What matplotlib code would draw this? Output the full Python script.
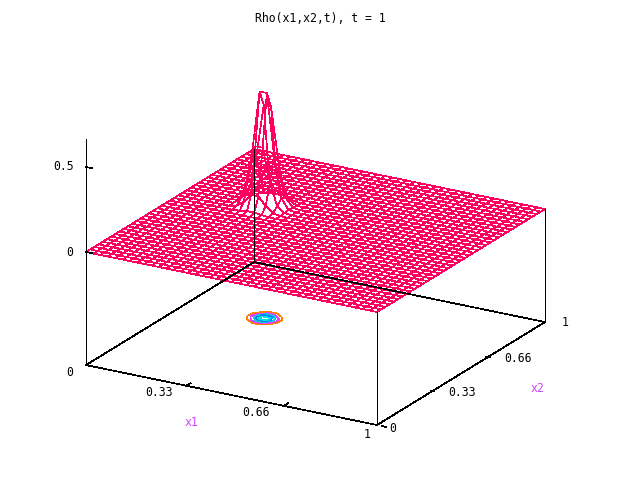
import numpy as np
import matplotlib
matplotlib.use("Agg")
import matplotlib.pyplot as plt

# grid of the surface, flat at zero apart from the peak table below
n_cells = 40
peak_i = 7
peak_j = 21
peak = [
    [0.000, 0.001, 0.004, 0.007, 0.006, 0.002, 0.000, 0.000],
    [0.001, 0.009, 0.036, 0.067, 0.057, 0.023, 0.004, 0.000],
    [0.005, 0.042, 0.168, 0.310, 0.266, 0.106, 0.019, 0.002],
    [0.011, 0.091, 0.362, 0.669, 0.574, 0.228, 0.042, 0.004],
    [0.011, 0.091, 0.362, 0.669, 0.574, 0.228, 0.042, 0.004],
    [0.005, 0.042, 0.168, 0.310, 0.266, 0.106, 0.019, 0.002],
    [0.001, 0.009, 0.036, 0.067, 0.057, 0.023, 0.004, 0.000],
    [0.000, 0.001, 0.004, 0.007, 0.006, 0.002, 0.000, 0.000],
]

z_bottom = -0.665
z_top = 0.665

x1_ticks = [0.345, 0.68]
x2_ticks = [0.33, 0.66]
z_ticks = [0.0, 0.5]

contour_levels = [0.15, 0.25, 0.38, 0.5, 0.6]
contour_colors = ["#ff8000", "#e040ff", "#00d0e0", "#0080ff", "#00e0e0"]

# text: string, pixel x, pixel y, colour
labels = [
    ("Rho(x1,x2,t), t = 1", 320, 18, "black"),
    ("0.5", 64, 167, "black"),
    ("0", 70, 252, "black"),
    ("0", 70, 372, "black"),
    ("0.33", 159, 393, "black"),
    ("0.66", 256, 412, "black"),
    ("1", 367, 434, "black"),
    ("x1", 191, 423, "#cc44ff"),
    ("0", 393, 428, "black"),
    ("0.33", 462, 393, "black"),
    ("0.66", 518, 358, "black"),
    ("1", 565, 323, "black"),
    ("x2", 537, 388, "#cc44ff"),
]

PINK = "#ff0060"


def project(x1, x2, z):
    # same oblique view as the reference, result in image pixels
    px = 86 + 291 * np.asarray(x1) + 168 * np.asarray(x2)
    py = 252 + 60 * np.asarray(x1) - 103 * np.asarray(x2) - 170 * np.asarray(z)
    return px, py


def line(ax, x1, x2, z, color="black", zorder=3):
    px, py = project(x1, x2, z)
    ax.plot(px, py, color=color, lw=0.5, antialiased=False, zorder=zorder,
            solid_joinstyle="miter")


grid = np.linspace(0, 1, n_cells + 1)
X1, X2 = np.meshgrid(grid, grid, indexing="ij")
Z = np.zeros_like(X1)
table = np.array(peak)
Z[peak_i:peak_i + table.shape[0], peak_j:peak_j + table.shape[1]] = table

fig = plt.figure(figsize=(6.4, 4.8), dpi=100)
ax = fig.add_axes([0, 0, 1, 1])

# surface wireframe
for k in range(n_cells + 1):
    line(ax, X1[k, :], X2[k, :], Z[k, :], PINK, 2)
    line(ax, X1[:, k], X2[:, k], Z[:, k], PINK, 2)

# contours on the base
bx, by = project(X1, X2, z_bottom)
ax.contour(bx, by, Z, levels=contour_levels, colors=contour_colors,
           linewidths=0.5, antialiased=False, zorder=2)

# base frame and the corner posts
line(ax, [0, 1, 1, 0, 0], [0, 0, 1, 1, 0], [z_bottom] * 5)
line(ax, [0, 0], [0, 0], [z_bottom, z_top])
for cx1, cx2 in [(1, 0), (1, 1), (0, 1)]:
    line(ax, [cx1, cx1], [cx2, cx2], [z_bottom, 0])

# ticks
for t in x1_ticks:
    line(ax, [t, t], [0, 0.025], [z_bottom, z_bottom])
for t in x2_ticks:
    line(ax, [0.994, 1.006], [t, t], [z_bottom, z_bottom])
line(ax, [1.018, 1.03], [0, 0], [z_bottom, z_bottom])
line(ax, [1, 0.988], [1, 1], [z_bottom, z_bottom])
for t in z_ticks:
    line(ax, [0, 0.02], [0, 0], [t, t])

for text, tx, ty, col in labels:
    ax.text(tx, ty, text, color=col, family="DejaVu Sans Mono", fontsize=8.3,
            ha="center", va="center")

ax.set_xlim(0, 640)
ax.set_ylim(480, 0)
ax.axis("off")
fig.savefig("out.png", dpi=100)
